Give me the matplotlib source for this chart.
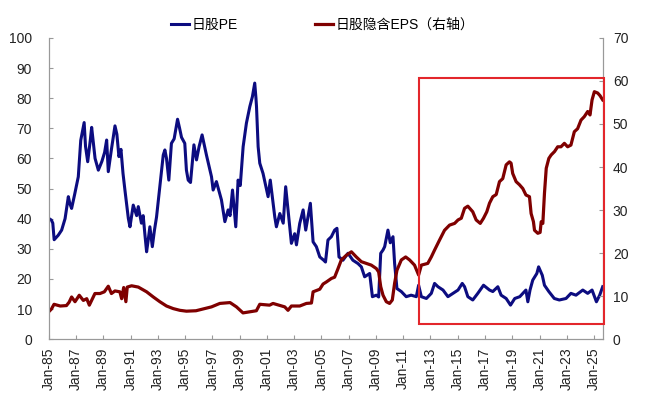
import numpy as np
import matplotlib
matplotlib.use('Agg')
import matplotlib.pyplot as plt
from matplotlib.patches import Rectangle

plt.rcParams['font.family'] = ['Liberation Sans', 'Noto Sans CJK SC', 'DejaVu Sans']

# 日股PE (left axis)
pe_years = [1985.0, 1985.2, 1985.3, 1985.4, 1985.7, 1985.95, 1986.2, 1986.44, 1986.55, 1986.68,
            1986.9, 1987.17, 1987.35, 1987.6, 1987.7, 1987.86, 1988.05, 1988.15, 1988.4, 1988.64,
            1988.9, 1989.1, 1989.25, 1989.37, 1989.6, 1989.86, 1990.0, 1990.15, 1990.3, 1990.45,
            1990.59, 1990.84, 1990.96, 1991.2, 1991.45, 1991.57, 1991.8, 1991.93, 1992.05, 1992.18,
            1992.3, 1992.42, 1992.6, 1992.75, 1992.91, 1993.15, 1993.4, 1993.52, 1993.64, 1993.81,
            1994.0, 1994.2, 1994.45, 1994.6, 1994.74, 1994.98, 1995.1, 1995.23, 1995.4, 1995.65,
            1995.84, 1996.03, 1996.25, 1996.57, 1996.94, 1997.06, 1997.3, 1997.67, 1997.92, 1998.16,
            1998.3, 1998.48, 1998.72, 1998.89, 1999.05, 1999.26, 1999.5, 1999.75, 1999.94, 2000.11,
            2000.2, 2000.24, 2000.36, 2000.48, 2000.72, 2001.09, 2001.25, 2001.58, 2001.7, 2001.95,
            2002.2, 2002.38, 2002.55, 2002.8, 2003.04, 2003.17, 2003.41, 2003.66, 2003.85, 2004.19,
            2004.39, 2004.63, 2004.88, 2005.17, 2005.3, 2005.48, 2005.73, 2005.97, 2006.14, 2006.29,
            2006.58, 2006.95, 2007.31, 2007.68, 2007.93, 2008.17, 2008.54, 2008.74, 2009.03, 2009.2,
            2009.35, 2009.52, 2009.64, 2009.88, 2010.05, 2010.25, 2010.37, 2010.54, 2010.86, 2011.22,
            2011.58, 2011.96, 2012.13, 2012.33, 2012.7, 2013.06, 2013.3, 2013.55, 2013.92, 2014.28,
            2014.65, 2015.02, 2015.33, 2015.5, 2015.74, 2016.1, 2016.47, 2016.89, 2017.33, 2017.57,
            2017.94, 2018.18, 2018.55, 2018.87, 2019.18, 2019.55, 2019.77, 2020.0, 2020.14, 2020.3,
            2020.5, 2020.8, 2020.93, 2021.2, 2021.36, 2021.68, 2022.08, 2022.45, 2022.94, 2023.3,
            2023.67, 2024.17, 2024.53, 2024.85, 2025.17, 2025.41, 2025.63]
pe_values = [40.1, 39.5, 38.5, 33.0, 34.5, 36.2, 40.0, 47.3, 45.0, 43.4,
             48.0, 53.9, 66.0, 71.9, 64.0, 58.9, 66.0, 70.3, 60.0, 56.1,
             59.0, 62.0, 66.1, 55.6, 63.0, 70.8, 68.0, 60.6, 63.0, 55.0,
             49.5, 40.1, 37.3, 44.5, 41.0, 44.0, 38.5, 41.0, 35.0, 29.0,
             33.0, 37.3, 30.7, 36.0, 40.6, 50.6, 61.1, 62.8, 60.0, 52.8,
             65.0, 66.5, 73.0, 70.0, 67.0, 65.0, 56.1, 52.8, 52.0, 64.5,
             59.5, 63.9, 67.8, 61.1, 53.9, 49.5, 52.3, 46.2, 39.0, 42.9,
             41.0, 49.5, 37.3, 52.8, 51.0, 63.9, 71.7, 77.2, 80.5, 85.0,
             80.0, 77.2, 63.9, 58.4, 55.0, 47.3, 52.8, 40.6, 37.3, 41.7,
             38.5, 50.6, 42.9, 31.8, 35.0, 31.3, 38.4, 42.9, 36.2, 45.1,
             32.3, 30.7, 27.3, 26.2, 25.6, 32.9, 34.0, 36.2, 36.8, 27.3,
             26.2, 28.5, 26.2, 25.1, 24.0, 20.7, 21.8, 14.1, 14.6, 14.0,
             28.5, 29.6, 30.7, 36.2, 32.0, 34.0, 25.1, 16.8, 15.8, 14.1,
             14.6, 14.1, 17.9, 14.1, 13.5, 15.2, 18.5, 17.4, 16.3, 14.1,
             15.2, 16.3, 18.5, 17.4, 14.1, 13.0, 15.2, 17.9, 16.3, 15.8,
             17.4, 14.6, 13.5, 11.3, 13.5, 14.1, 15.2, 16.3, 12.4, 16.3,
             19.6, 21.8, 24.0, 21.2, 17.9, 15.8, 13.5, 13.0, 13.5, 15.2,
             14.6, 16.3, 15.2, 16.3, 12.4, 14.6, 17.4]

# 日股隐含EPS (right axis)
eps_years = [1985.0, 1985.2, 1985.39, 1985.85, 1986.3, 1986.5, 1986.68, 1986.93, 1987.24, 1987.54,
             1987.79, 1987.98, 1988.39, 1988.76, 1989.08, 1989.37, 1989.6, 1989.86, 1990.22, 1990.35,
             1990.5, 1990.66, 1990.76, 1991.08, 1991.57, 1992.18, 1992.67, 1993.15, 1993.64, 1994.13,
             1994.62, 1995.1, 1995.8, 1996.94, 1997.55, 1998.3, 1998.77, 1999.25, 2000.23, 2000.48,
             2001.2, 2001.45, 2002.31, 2002.55, 2002.8, 2003.41, 2003.9, 2004.27, 2004.39, 2004.88,
             2005.12, 2005.37, 2005.73, 2005.97, 2006.22, 2006.46, 2006.83, 2007.2, 2007.56, 2007.93,
             2008.3, 2008.66, 2009.03, 2009.2, 2009.35, 2009.52, 2009.76, 2010.0, 2010.2, 2010.37,
             2010.54, 2010.86, 2011.18, 2011.47, 2011.83, 2012.13, 2012.33, 2012.8, 2013.06, 2013.3,
             2013.66, 2014.03, 2014.4, 2014.77, 2015.02, 2015.26, 2015.5, 2015.74, 2016.1, 2016.35,
             2016.65, 2016.89, 2017.13, 2017.33, 2017.57, 2017.82, 2018.06, 2018.3, 2018.55, 2018.79,
             2018.91, 2019.03, 2019.28, 2019.52, 2019.77, 2020.0, 2020.26, 2020.38, 2020.55, 2020.63,
             2020.87, 2021.04, 2021.12, 2021.24, 2021.36, 2021.49, 2021.68, 2021.85, 2022.1, 2022.33,
             2022.57, 2022.82, 2023.06, 2023.3, 2023.55, 2023.79, 2024.04, 2024.28, 2024.53, 2024.7,
             2024.85, 2025.02, 2025.26, 2025.43, 2025.63]
eps_values = [6.35, 7.0, 8.1, 7.7, 7.8, 8.6, 9.8, 8.7, 10.2, 9.0,
              9.4, 7.9, 10.6, 10.6, 11.0, 12.3, 10.6, 11.2, 11.0, 9.4,
              12.0, 8.7, 12.1, 12.4, 12.1, 11.0, 9.8, 8.7, 7.7, 7.1,
              6.7, 6.5, 6.6, 7.5, 8.3, 8.5, 7.5, 6.1, 6.6, 8.1,
              7.9, 8.3, 7.5, 6.7, 7.7, 7.7, 8.3, 8.4, 11.0, 11.6,
              12.8, 13.3, 14.1, 14.4, 16.4, 18.4, 19.5, 20.3, 19.1, 18.0,
              17.6, 17.2, 16.4, 15.6, 12.2, 10.2, 8.7, 8.3, 9.1, 13.0,
              16.0, 18.4, 19.1, 18.4, 17.2, 14.9, 17.2, 17.6, 19.1, 20.7,
              23.0, 25.3, 26.5, 26.9, 27.7, 28.1, 30.4, 30.9, 29.6, 27.7,
              26.9, 28.1, 29.6, 31.6, 33.1, 33.6, 36.6, 37.3, 40.5, 41.2,
              40.9, 38.5, 36.6, 35.9, 35.0, 33.5, 33.1, 29.2, 27.3, 25.3,
              24.6, 24.8, 27.3, 26.9, 33.9, 39.7, 42.0, 42.8, 43.6, 44.7,
              44.7, 45.5, 44.7, 45.1, 48.2, 48.9, 50.9, 51.7, 52.9, 52.1,
              55.6, 57.5, 57.2, 56.6, 55.6]

tick_years = list(range(1985, 2026, 2))
tick_labels = [f'Jan-{y % 100:02d}' for y in tick_years]

fig = plt.figure(figsize=(6.52, 3.99), dpi=100)
ax = fig.add_axes([0.0747, 0.150, 0.8503, 0.755])
ax2 = ax.twinx()

line_pe, = ax.plot(pe_years, pe_values, color='#0c0c80', lw=2.2, label='日股PE')
line_eps, = ax2.plot(eps_years, eps_values, color='#7f0000', lw=2.3, label='日股隐含EPS（右轴）')

ax.set_xlim(1985.0, 2025.66)
ax.set_ylim(0, 100)
ax.set_yticks(range(0, 101, 10))
ax2.set_ylim(0, 70)
ax2.set_yticks(range(0, 71, 10))
ax.set_xticks(tick_years)
ax.set_xticklabels(tick_labels, rotation=90)

for a in (ax, ax2):
    a.tick_params(direction='in', length=3, color='#999999', labelsize=10, labelcolor='#222222')
    for side in a.spines:
        a.spines[side].set_color('#999999')
    a.spines['top'].set_visible(False)
ax.tick_params(axis='x', pad=6)
ax.tick_params(axis='y', pad=12)
ax2.tick_params(axis='y', pad=7)

# highlight box for the recent period
ax2.add_patch(Rectangle((2012.13, 3.42), 2025.69 - 2012.13, 60.63 - 3.42, fill=False,
                        edgecolor='#e3262b', lw=1.5, clip_on=False, zorder=5))

fig.legend(handles=[line_pe, line_eps], loc='center', bbox_to_anchor=(0.495, 0.937), ncol=2,
           frameon=False, fontsize=10, handlelength=1.3, handletextpad=0.15, columnspacing=5.6)

fig.savefig('out.png', dpi=100)
